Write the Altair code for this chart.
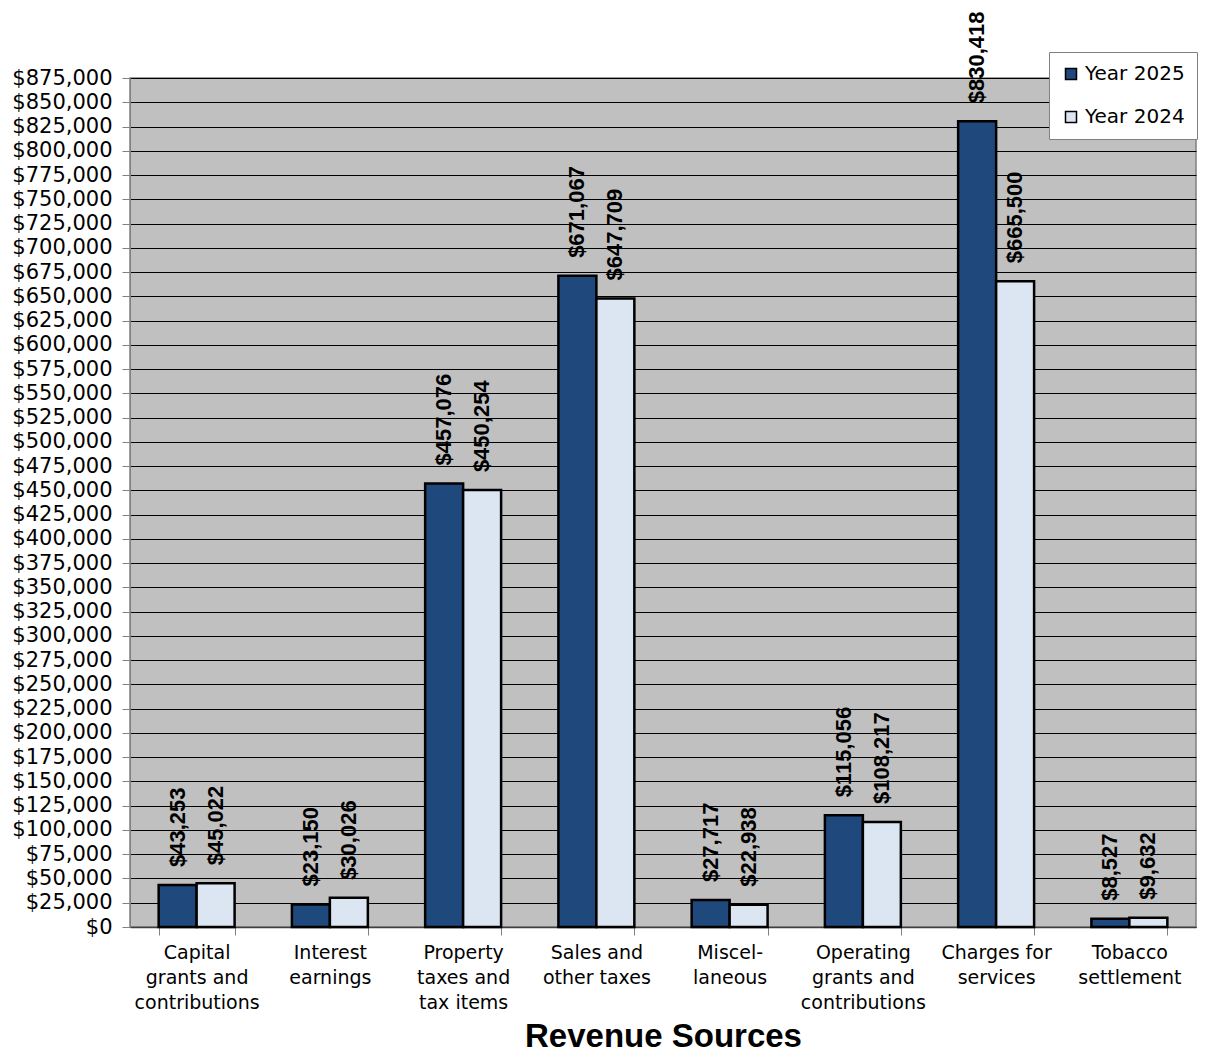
import altair as alt
import pandas as pd

categories = [
    "Capital\ngrants and\ncontributions",
    "Interest\nearnings",
    "Property\ntaxes and\ntax items",
    "Sales and\nother taxes",
    "Miscel-\nlaneous",
    "Operating\ngrants and\ncontributions",
    "Charges for\nservices",
    "Tobacco\nsettlement",
]
year_2025 = [43253, 23150, 457076, 671067, 27717, 115056, 830418, 8527]
year_2024 = [45022, 30026, 450254, 647709, 22938, 108217, 665500, 9632]
series = ["Year 2025", "Year 2024"]
y_ticks = list(range(0, 875001, 25000))

rows = []
for c, a, b in zip(categories, year_2025, year_2024):
    rows.append({"category": c, "series": series[0], "value": a})
    rows.append({"category": c, "series": series[1], "value": b})
df = pd.DataFrame(rows)

FONT = "DejaVu Sans"
TFONT = "Liberation Sans"

x_enc = alt.X(
    "category:N",
    sort=categories,
    scale=alt.Scale(paddingInner=0.43, paddingOuter=0.215),
    axis=alt.Axis(
        title="Revenue Sources",
        titleFont=TFONT,
        titleFontSize=33,
        titleFontWeight="bold",
        titleColor="black",
        titlePadding=8,
        labelExpr="split(datum.label, '\\n')",
        labelFont=FONT,
        labelFontSize=19,
        labelColor="black",
        labelAngle=0,
        labelLineHeight=25,
        labelPadding=8,
        labelOverlap=False,
        tickBand="extent",
        tickSize=8,
        tickColor="#808080",
        domainColor="#404040",
        domainWidth=1.5,
    ),
)
y_enc = alt.Y(
    "value:Q",
    scale=alt.Scale(domain=[0, 875000], nice=False, zero=True),
    axis=alt.Axis(
        title=None,
        values=y_ticks,
        format="$,.0f",
        labelFont=FONT,
        labelFontSize=21,
        labelColor="black",
        labelPadding=10,
        labelOverlap=False,
        labelFlush=False,
        tickSize=8,
        tickColor="#808080",
        domainColor="#808080",
        grid=True,
        gridColor="black",
        gridWidth=1,
        gridOpacity=1,
    ),
)
color_enc = alt.Color(
    "series:N",
    sort=series,
    scale=alt.Scale(domain=series, range=["#1F497D", "#DCE6F2"]),
    legend=alt.Legend(
        title=None,
        orient="none",
        legendX=919,
        legendY=-26,
        fillColor="white",
        strokeColor="#808080",
        padding=12,
        symbolType="square",
        symbolSize=121,
        symbolStrokeColor="black",
        symbolStrokeWidth=1.5,
        labelFont=FONT,
        labelFontSize=20,
        labelColor="black",
        labelOffset=4,
        rowPadding=23,
    ),
)

bars = alt.Chart(df).mark_bar(stroke="black", strokeWidth=2.5).encode(
    x=x_enc,
    xOffset=alt.XOffset("series:N", sort=series),
    y=y_enc,
    color=color_enc,
)

labels = alt.Chart(df).mark_text(
    angle=270,
    align="left",
    baseline="middle",
    dx=18,
    font=TFONT,
    fontSize=22,
    fontWeight="bold",
    color="black",
).encode(
    x=x_enc,
    xOffset=alt.XOffset("series:N", sort=series),
    y=y_enc,
    text=alt.Text("value:Q", format="$,.0f"),
)

chart = (
    alt.layer(bars, labels)
    .properties(
        width=1066,
        height=849,
        autosize=alt.AutoSizeParams(type="none"),
        padding={"left": 122, "top": 70, "right": 3, "bottom": 126},
        background="white",
    )
    .configure_view(fill="#C0C0C0", stroke="#808080", strokeWidth=1.5)
)

chart.save("out.html", embed_options={"renderer": "svg", "actions": False})
